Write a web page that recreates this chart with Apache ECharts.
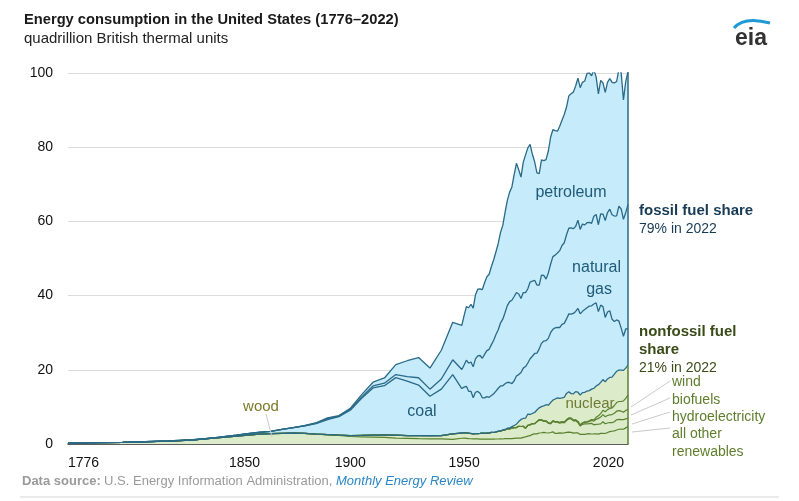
<!DOCTYPE html>
<html>
<head>
<meta charset="utf-8">
<script src="https://cdn.jsdelivr.net/npm/echarts@6/dist/echarts.min.js"></script>
<style>
  html, body { margin: 0; padding: 0; background: #fff; }
  #chart { width: 799px; height: 501px; }
</style>
</head>
<body>
<div id="chart"></div>
<script>
// years: sparse before 1949, annual after
const years = [1776, 1780, 1790, 1800, 1810, 1820, 1830, 1840,
  1850, 1855, 1860, 1865, 1870, 1875, 1880, 1885, 1890, 1895, 1900, 1905, 1910, 1915, 1920, 1925, 1930, 1935, 1940, 1945,
  1949, 1950, 1951, 1952, 1953, 1954, 1955, 1956, 1957, 1958, 1959, 1960, 1961, 1962, 1963, 1964, 1965, 1966, 1967, 1968,
  1969, 1970, 1971, 1972, 1973, 1974, 1975, 1976, 1977, 1978, 1979, 1980, 1981, 1982, 1983, 1984, 1985, 1986, 1987, 1988,
  1989, 1990, 1991, 1992, 1993, 1994, 1995, 1996, 1997, 1998, 1999, 2000, 2001, 2002, 2003, 2004, 2005, 2006, 2007, 2008,
  2009, 2010, 2011, 2012, 2013, 2014, 2015, 2016, 2017, 2018, 2019, 2020, 2021, 2022];

// quadrillion Btu
const otherRenewables = [0.25, 0.27, 0.35, 0.45, 0.60, 0.80, 1.05, 1.60,
  2.14, 2.40, 2.64, 2.77, 2.89, 2.97, 2.85, 2.68, 2.52, 2.31, 2.02, 1.94, 1.86, 1.76, 1.61, 1.54, 1.46, 1.40, 1.36, 1.26,
  1.55, 1.56, 1.54, 1.45, 1.42, 1.39, 1.42, 1.39, 1.32, 1.33, 1.35, 1.32, 1.29, 1.30, 1.33, 1.35, 1.35, 1.38, 1.35, 1.43,
  1.45, 1.44, 1.44, 1.53, 1.57, 1.60, 1.57, 1.79, 1.92, 2.11, 2.24, 2.59, 2.71, 2.74, 2.96, 3.04, 3.13, 3.03, 2.96, 3.11,
  3.27, 2.85, 2.85, 3.00, 2.93, 3.00, 3.11, 3.22, 3.12, 2.93, 2.98, 2.99, 2.58, 2.61, 2.61, 2.73, 2.77, 2.69, 2.71, 2.77,
  2.67, 2.87, 2.88, 2.83, 3.10, 3.32, 3.44, 3.52, 3.77, 3.97, 4.00, 3.98, 4.35, 4.70];
const hydro = [0, 0, 0, 0, 0, 0, 0, 0,
  0, 0, 0, 0, 0, 0, 0, 0, 0.02, 0.09, 0.25, 0.39, 0.54, 0.66, 0.78, 0.70, 0.79, 0.83, 0.88, 1.49,
  1.42, 1.42, 1.46, 1.46, 1.41, 1.36, 1.36, 1.43, 1.52, 1.59, 1.55, 1.61, 1.66, 1.82, 1.77, 1.89, 2.06, 2.06, 2.35, 2.35,
  2.65, 2.63, 2.82, 2.86, 2.86, 3.18, 3.15, 2.98, 2.33, 2.94, 2.93, 2.90, 2.76, 3.27, 3.53, 3.39, 2.97, 3.07, 2.63, 2.33,
  2.84, 3.05, 3.02, 2.62, 2.89, 2.68, 3.21, 3.59, 3.64, 3.30, 3.27, 2.81, 2.24, 2.69, 2.82, 2.69, 2.70, 2.87, 2.45, 2.51,
  2.67, 2.54, 3.10, 2.63, 2.56, 2.47, 2.32, 2.47, 2.77, 2.69, 2.56, 2.59, 2.41, 2.31];
const biofuels = [0, 0, 0, 0, 0, 0, 0, 0,
  0, 0, 0, 0, 0, 0, 0, 0, 0, 0, 0, 0, 0, 0, 0, 0, 0, 0, 0, 0,
  0, 0, 0, 0, 0, 0, 0, 0, 0, 0, 0, 0, 0, 0, 0, 0, 0, 0, 0, 0,
  0, 0, 0, 0, 0, 0, 0, 0, 0, 0, 0, 0, 0.01, 0.03, 0.06, 0.08, 0.09, 0.11, 0.12, 0.12,
  0.13, 0.11, 0.13, 0.15, 0.17, 0.19, 0.20, 0.14, 0.19, 0.20, 0.21, 0.23, 0.25, 0.31, 0.40, 0.49, 0.58, 0.77, 1.02, 1.37,
  1.57, 1.85, 1.95, 1.88, 2.01, 2.07, 2.17, 2.29, 2.30, 2.32, 2.28, 2.01, 2.26, 2.38];
const wind = [0, 0, 0, 0, 0, 0, 0, 0,
  0, 0, 0, 0, 0, 0, 0, 0, 0, 0, 0, 0, 0, 0, 0, 0, 0, 0, 0, 0,
  0, 0, 0, 0, 0, 0, 0, 0, 0, 0, 0, 0, 0, 0, 0, 0, 0, 0, 0, 0,
  0, 0, 0, 0, 0, 0, 0, 0, 0, 0, 0, 0, 0, 0, 0, 0, 0, 0, 0, 0,
  0, 0.03, 0.03, 0.03, 0.03, 0.04, 0.03, 0.03, 0.03, 0.03, 0.05, 0.06, 0.07, 0.11, 0.12, 0.14, 0.18, 0.26, 0.34, 0.55,
  0.72, 0.92, 1.17, 1.34, 1.60, 1.73, 1.78, 2.10, 2.34, 2.48, 2.64, 3.02, 3.30, 3.80];
const nuclear = [0, 0, 0, 0, 0, 0, 0, 0,
  0, 0, 0, 0, 0, 0, 0, 0, 0, 0, 0, 0, 0, 0, 0, 0, 0, 0, 0, 0,
  0, 0, 0, 0, 0, 0, 0, 0, 0, 0, 0, 0.01, 0.02, 0.03, 0.04, 0.04, 0.04, 0.06, 0.09, 0.14,
  0.15, 0.24, 0.41, 0.58, 0.91, 1.27, 1.90, 2.11, 2.70, 3.02, 2.78, 2.74, 3.01, 3.13, 3.20, 3.55, 4.08, 4.38, 4.75, 5.59,
  5.60, 6.10, 6.42, 6.48, 6.41, 6.69, 7.08, 7.09, 6.60, 7.07, 7.61, 7.86, 8.03, 8.14, 7.96, 8.22, 8.16, 8.21, 8.46, 8.43,
  8.36, 8.43, 8.27, 8.06, 8.27, 8.34, 8.34, 8.43, 8.42, 8.44, 8.45, 8.25, 8.13, 8.06];
const coal = [0, 0, 0, 0.01, 0.01, 0.02, 0.03, 0.07,
  0.22, 0.42, 0.52, 0.63, 1.05, 1.44, 2.05, 2.84, 4.06, 4.95, 6.84, 10.00, 12.71, 13.29, 15.50, 14.71, 13.64, 10.63, 12.54, 15.97,
  11.98, 12.35, 12.55, 11.31, 11.37, 9.72, 11.17, 11.35, 10.82, 9.53, 9.52, 9.84, 9.62, 9.91, 10.41, 10.96, 11.58, 12.14, 11.91, 12.33,
  12.38, 12.27, 11.60, 12.08, 12.97, 12.66, 12.66, 13.58, 13.92, 13.77, 15.04, 15.42, 15.91, 15.32, 15.89, 17.07, 17.48, 17.26, 18.01, 18.85,
  19.07, 19.17, 18.99, 19.12, 19.84, 19.91, 20.09, 21.00, 21.45, 21.66, 21.62, 22.58, 21.91, 21.90, 22.32, 22.47, 22.80, 22.45, 22.75, 22.39,
  19.69, 20.83, 19.66, 17.38, 18.04, 17.99, 15.55, 14.23, 13.84, 13.24, 11.31, 9.18, 10.55, 9.86];
const naturalGas = [0, 0, 0, 0, 0, 0, 0, 0,
  0, 0, 0, 0, 0, 0, 0, 0.14, 0.26, 0.15, 0.25, 0.37, 0.54, 0.67, 0.83, 1.21, 1.97, 1.92, 2.73, 3.97,
  5.15, 5.97, 7.05, 7.55, 7.91, 8.33, 9.00, 9.61, 10.19, 10.66, 11.72, 12.39, 12.93, 13.73, 14.40, 15.29, 15.77, 16.99, 17.94, 19.21,
  20.68, 21.79, 22.47, 22.70, 22.51, 21.73, 19.95, 20.35, 19.93, 20.00, 20.67, 20.24, 19.74, 18.36, 17.20, 18.39, 17.70, 16.59, 17.64, 18.45,
  19.60, 19.60, 20.03, 20.71, 21.23, 21.73, 22.67, 23.08, 23.22, 22.83, 22.91, 23.82, 22.77, 23.51, 22.83, 22.91, 22.56, 22.22, 23.66, 23.84,
  23.42, 24.57, 24.95, 26.09, 26.81, 27.38, 28.19, 28.40, 28.03, 30.96, 32.10, 31.54, 31.35, 33.41];
const petroleum = [0, 0, 0, 0, 0, 0, 0, 0,
  0, 0, 0.003, 0.006, 0.011, 0.02, 0.10, 0.04, 0.16, 0.17, 0.23, 0.61, 1.01, 1.42, 2.68, 4.28, 5.43, 5.68, 7.76, 10.11,
  11.88, 13.32, 14.43, 14.96, 15.56, 15.84, 17.25, 17.94, 17.93, 18.53, 19.32, 19.92, 20.22, 21.05, 21.70, 22.30, 23.25, 24.40, 25.28, 26.98,
  28.34, 29.52, 30.56, 32.95, 34.84, 33.45, 32.73, 35.17, 37.12, 37.97, 37.12, 34.20, 31.93, 30.23, 30.05, 31.05, 30.92, 32.20, 32.87, 34.22,
  34.21, 33.55, 32.85, 33.53, 33.74, 34.56, 34.44, 35.68, 36.16, 36.82, 37.84, 38.26, 38.19, 38.22, 38.78, 40.23, 40.30, 39.79, 39.41, 37.09,
  35.27, 35.98, 35.35, 34.55, 35.09, 35.22, 35.69, 35.89, 36.24, 36.89, 36.72, 32.20, 35.34, 35.85];

const xTicks = [1776, 1850, 1900, 1950, 2020];
const yTicks = [0, 20, 40, 60, 80, 100];

const BLUE_FILL = '#c6ebfa';
const BLUE_LINE = '#2a6a88';
const GREEN_FILL = '#dcecca';
const GREEN_LINE = '#5a8030';
const FONT = '"Liberation Sans", Arial, sans-serif';

// stacking order, bottom to top
const layers = [
  { values: otherRenewables, fill: GREEN_FILL, line: GREEN_LINE },
  { values: hydro, fill: GREEN_FILL, line: GREEN_LINE },
  { values: biofuels, fill: GREEN_FILL, line: GREEN_LINE },
  { values: wind, fill: GREEN_FILL, line: GREEN_LINE },
  { values: nuclear, fill: GREEN_FILL, line: BLUE_LINE },
  { values: coal, fill: BLUE_FILL, line: BLUE_LINE },
  { values: naturalGas, fill: BLUE_FILL, line: BLUE_LINE },
  { values: petroleum, fill: BLUE_FILL, line: BLUE_LINE }
];

// running totals (stack with a value x axis does not draw here, so sum by hand)
let running = years.map(() => 0);
const cumulative = layers.map(l => {
  running = running.map((s, i) => s + l.values[i]);
  return running.slice();
});

// areas from the top layer down, each one painted over the one before
const areaSeries = layers.map((l, k) => k).reverse().map(k => ({
  type: 'line', symbol: 'none', silent: true, z: 2,
  data: years.map((y, i) => [y, cumulative[k][i]]),
  lineStyle: { width: 0, opacity: 0 },
  areaStyle: { color: layers[k].fill, opacity: 1 }
}));
// boundary lines on top, bottom layer first so the blue lines win where they meet
const lineSeries = layers.map((l, k) => ({
  type: 'line', symbol: 'none', silent: true, z: 3,
  data: years.map((y, i) => [y, cumulative[k][i]]),
  lineStyle: { color: l.line, width: k >= 4 ? 1.3 : 1.2 }
}));

const last = years.length - 1;
const nonfossilEnd = cumulative[4][last];
const totalEnd = cumulative[7][last];

let chart = echarts.init(document.getElementById('chart'));

function txt(x, y, text, opts) {
  return {
    type: 'text', z: 10, silent: true,
    style: Object.assign({
      x: x, y: y, text: text, font: '14px ' + FONT, fill: '#333',
      align: 'left', verticalAlign: 'middle'
    }, opts || {})
  };
}
function seg(x1, y1, x2, y2) {
  return { type: 'line', z: 9, silent: true, shape: { x1: x1, y1: y1, x2: x2, y2: y2 }, style: { stroke: '#c9c9c9', lineWidth: 1 } };
}

chart.setOption({
  animation: false,
  grid: { left: 68, right: 171, top: 73, bottom: 57 },
  xAxis: {
    type: 'value',
    min: 1776,
    max: 2022,
    axisLine: { show: true, onZero: false, lineStyle: { color: '#333', width: 1.5 } },
    axisTick: { show: false },
    splitLine: { show: false },
    axisLabel: {
      customValues: xTicks,
      margin: 12,
      fontSize: 14,
      fontFamily: FONT,
      color: '#111',
      alignMinLabel: 'left',
      formatter: function (v) {
        if (v === 2020) return '{r|2020}';
        if (v === 1850) return '{l|1850}';
        return String(v);
      },
      rich: {
        r: { fontSize: 14, fontFamily: FONT, color: '#111', padding: [0, 30, 0, 0] },
        l: { fontSize: 14, fontFamily: FONT, color: '#111', padding: [0, 0, 0, 16] }
      }
    }
  },
  yAxis: {
    type: 'value',
    min: 0,
    max: 100,
    interval: 20,
    axisLine: { show: false },
    axisTick: { show: false },
    splitLine: { lineStyle: { color: '#dcdcdc', width: 1 } },
    axisLabel: {
      margin: 15,
      fontSize: 14,
      fontFamily: FONT,
      color: '#111',
      formatter: function (v) { return yTicks.indexOf(v) >= 0 ? String(v) : ''; }
    }
  },
  series: areaSeries.concat(lineSeries).concat([
    {
      type: 'line', symbol: 'none', silent: true, z: 4,
      data: [[2022, 0], [2022, nonfossilEnd]],
      lineStyle: { color: GREEN_LINE, width: 1.5 }
    },
    {
      type: 'line', symbol: 'none', silent: true, z: 4,
      data: [[2022, nonfossilEnd], [2022, totalEnd]],
      lineStyle: { color: BLUE_LINE, width: 1.5 }
    }
  ]),
  graphic: [
    txt(24, 20, 'Energy consumption in the United States (1776\u20132022)', { font: 'bold 14.7px ' + FONT, fill: '#1a1a1a' }),
    txt(24, 39, 'quadrillion British thermal units', { font: '15px ' + FONT, fill: '#222' }),
    // eia logo
    txt(751, 39, 'eia', { font: 'bold 23px ' + FONT, fill: '#333', align: 'center' }),
    { type: 'bezierCurve', z: 10, silent: true,
      shape: { x1: 734, y1: 28, cpx1: 744, cpy1: 16, x2: 770, y2: 23 },
      style: { stroke: '#1f9ad6', lineWidth: 3, fill: null } },
    // series labels inside the plot
    txt(571, 193, 'petroleum', { font: '16px ' + FONT, fill: '#1f5a78', align: 'center' }),
    txt(621, 268, 'natural', { font: '16px ' + FONT, fill: '#1f5a78', align: 'right' }),
    txt(612, 290, 'gas', { font: '16px ' + FONT, fill: '#1f5a78', align: 'right' }),
    txt(422, 412, 'coal', { font: '16px ' + FONT, fill: '#1f5a78', align: 'center' }),
    txt(261, 407, 'wood', { font: '15px ' + FONT, fill: '#7d7a2a', align: 'center' }),
    seg(266, 414, 272, 437),
    txt(590, 404, 'nuclear', { font: '15px ' + FONT, fill: '#6f7a35', align: 'center' }),
    // right side annotations
    txt(639, 211, 'fossil fuel share', { font: 'bold 15px ' + FONT, fill: '#173a55' }),
    txt(639, 229, '79% in 2022', { font: '14px ' + FONT, fill: '#173a55' }),
    txt(639, 332, 'nonfossil fuel', { font: 'bold 15px ' + FONT, fill: '#3a4a18' }),
    txt(639, 350, 'share', { font: 'bold 15px ' + FONT, fill: '#3a4a18' }),
    txt(639, 368, '21% in 2022', { font: '14px ' + FONT, fill: '#3a4a18' }),
    txt(672, 382, 'wind', { fill: '#5e7d2c' }),
    txt(672, 400, 'biofuels', { fill: '#5e7d2c' }),
    txt(672, 417, 'hydroelectricity', { fill: '#5e7d2c' }),
    txt(672, 434, 'all other', { fill: '#5e7d2c' }),
    txt(672, 452, 'renewables', { fill: '#5e7d2c' }),
    seg(631, 407, 670, 381),
    seg(631, 415, 670, 398),
    seg(632, 424, 670, 412),
    seg(632, 432, 670, 428),
    // source line
    {
      type: 'text', z: 10, silent: true,
      style: {
        x: 22, y: 481, verticalAlign: 'middle',
        text: '{b|Data source:} {n|U.S. Energy Information Administration, }{i|Monthly Energy Review}',
        rich: {
          b: { font: 'bold 13px ' + FONT, fill: '#9a9a9a' },
          n: { font: '13px ' + FONT, fill: '#9a9a9a' },
          i: { font: 'italic 13px ' + FONT, fill: '#2a86c4' }
        }
      }
    },
    { type: 'line', z: 9, silent: true, shape: { x1: 20, y1: 497, x2: 779, y2: 497 }, style: { stroke: '#d6d6d6', lineWidth: 1 } }
  ]
});
</script>
</body>
</html>
